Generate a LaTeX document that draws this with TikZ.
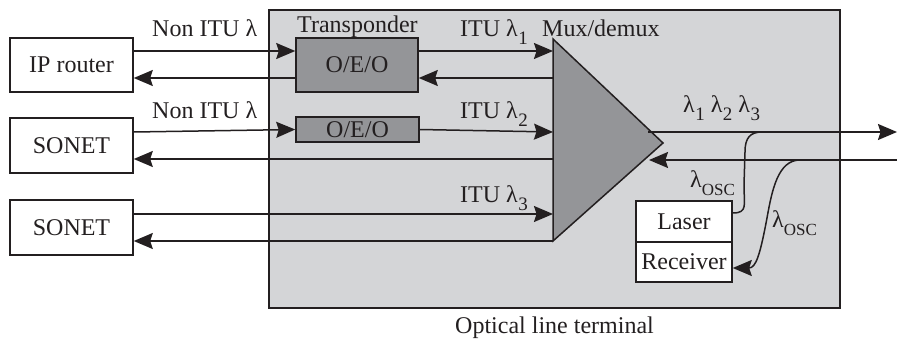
\documentclass[tikz,border=0pt]{standalone}
\usepackage{fontspec}
\setmainfont{Liberation Serif}
\usetikzlibrary{arrows.meta,calc}
\definecolor{oltgray}{RGB}{212,213,215}
\definecolor{dkgray}{RGB}{148,149,152}
\definecolor{ink}{RGB}{35,31,32}
\newcommand\lsub[1]{λ\kern0.5pt\raisebox{-8pt}{\fontsize{19}{19}\selectfont #1}}
\newcommand\losc{λ\raisebox{-8pt}{\fontsize{17}{17}\selectfont OSC}}
\begin{document}
\begin{tikzpicture}[x=1pt,y=-1pt,
  every node/.style={font=\fontsize{24}{26}\selectfont, text=ink},
  box/.style={draw=ink, line width=1.5pt, fill=white, inner sep=0pt},
  dbox/.style={draw=ink, line width=1.5pt, fill=dkgray, inner sep=0pt},
  lab/.style={inner sep=0pt, anchor=base west},
  conn/.style={draw=ink, line width=1.5pt},
  arr/.style={conn, -{Stealth[length=19pt,width=16pt,inset=2.5pt]}}
]
\useasboundingbox (0,0) rectangle (897,340);
% optical line terminal
\draw[fill=oltgray, draw=ink, line width=1.5pt] (269,10) rectangle (840,308);
\node[lab] (oltlab) at (455,333) {Optical line terminal};
% mux/demux triangle
\coordinate (tt) at (553,39);
\coordinate (tb) at (553,241);
\coordinate (ta) at (663,143);
\draw[fill=dkgray, draw=ink, line width=1.5pt] (tt) -- (ta) -- (tb) -- cycle;
\coordinate (m1o) at (553,51);
\coordinate (m1i) at (553,78);
\coordinate (m2o) at (553,132);
\coordinate (m2i) at (553,159);
\coordinate (m3o) at (553,214);
\coordinate (m3i) at (553,241);
\coordinate (mout) at (648,132);
\coordinate (min) at (649,160);
\coordinate (rout) at (897,132);
\coordinate (rin) at (897,160);
% client boxes
\node[box, minimum width=123pt, minimum height=54pt] (ip) at (71.5,65) {IP router};
\node[box, minimum width=123pt, minimum height=55pt] (s1) at (71.5,145.5) {SONET};
\node[box, minimum width=123pt, minimum height=55pt] (s2) at (71.5,227.5) {SONET};
% transponders
\node[dbox, minimum width=122pt, minimum height=54pt] (tr1) at (357,65) {O/E/O};
\node[dbox, minimum width=123pt, minimum height=25pt] (tr2) at (357.5,129.5) {O/E/O};
% laser / receiver
\node[box, minimum width=96pt, minimum height=41pt] (las) at (684,221.5) {Laser};
\node[box, minimum width=96pt, minimum height=40pt] (rcv) at (684,262) {Receiver};
% labels
\node[lab] (n1) at (152,36) {Non ITU λ};
\node[lab] (n2) at (152,118) {Non ITU λ};
\node[lab] (trl) at (297,32) {Transponder};
\node[lab] (i1) at (460,36) {ITU \lsub{1}};
\node[lab] (i2) at (460,118) {ITU \lsub{2}};
\node[lab] (i3) at (460,202) {ITU \lsub{3}};
\node[lab] (mux) at (542,36) {Mux/demux};
\node[lab] (l123) at (683,112) {\lsub{1} \lsub{2} \lsub{3}};
\node[lab] (o1) at (690,187) {\losc};
\node[lab] (o2) at (772,227) {\losc};
% connectors row 1
\draw[arr] ($(ip.east)+(0,-14)$) -- ($(tr1.west)+(0,-14)$);
\draw[arr] ($(tr1.east)+(0,-14)$) -- (m1o);
\draw[arr] (m1i) -- ($(tr1.east)+(0,13)$);
\draw[arr] ($(tr1.west)+(0,13)$) -- ($(ip.east)+(0,13)$);
% row 2
\draw[arr] ($(s1.east)+(0,-13.5)$) -- (tr2.west);
\draw[arr] (tr2.east) -- (m2o);
\draw[arr] (m2i) -- ($(s1.east)+(0,13.5)$);
% row 3
\draw[arr] ($(s2.east)+(0,-13.5)$) -- (m3o);
\draw[arr] (m3i) -- ($(s2.east)+(0,13.5)$);
% line side
\draw[arr] (mout) -- (rout);
\draw[arr] (rin) -- (min);
% OSC
\draw[conn] (las.east |- 0,213) .. controls (748,213) and (744,205) .. (744,185)
  -- (745,152) .. controls (745,138) and (750,132) .. (762,132);
\draw[arr] (800,160) .. controls (778,160) and (772,190) .. (767,218)
  .. controls (760,255) and (756,268) .. (rcv.east |- 0,268);
\end{tikzpicture}
\end{document}
